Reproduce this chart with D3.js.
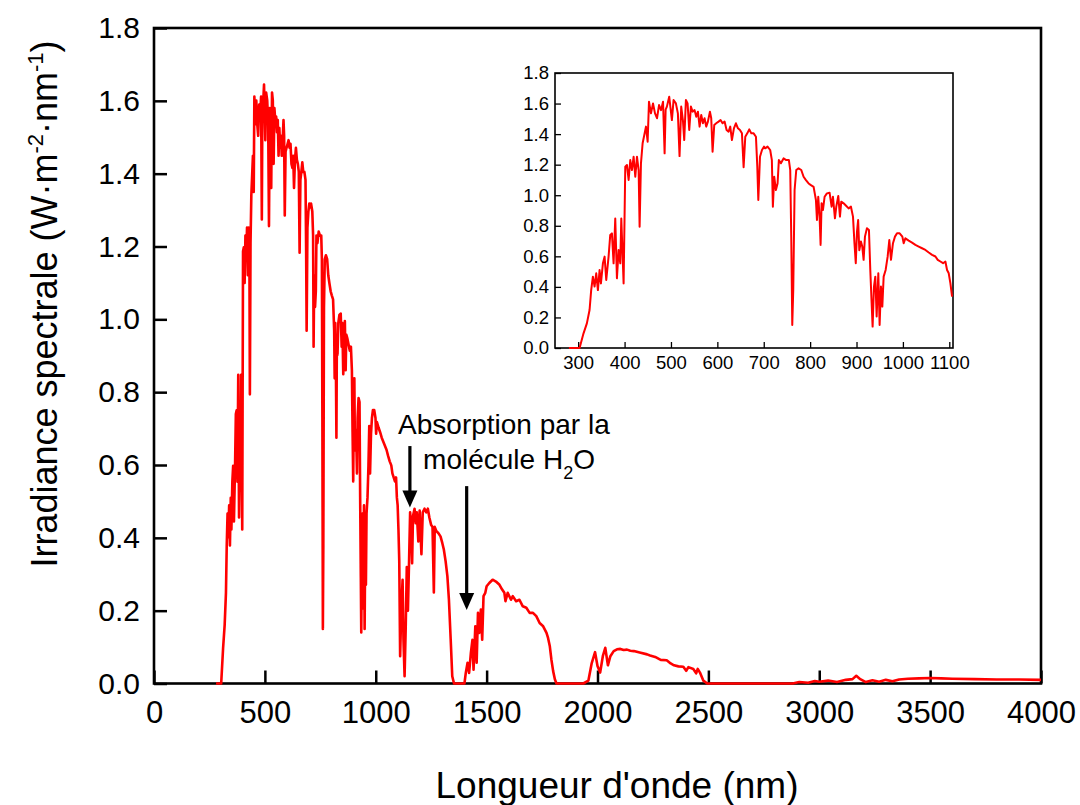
<!DOCTYPE html>
<html><head><meta charset="utf-8">
<script src="https://cdn.jsdelivr.net/npm/d3@7"></script>
<style>
html,body{margin:0;padding:0;background:#fff;}
text{font-family:"Liberation Sans",Arial,sans-serif;fill:#000;}
</style></head>
<body>
<svg id="chart" width="1080" height="805"></svg>
<script>
// ---- data ----
const wavelengthNm = [280,290,303,311.5,318.7,324.5,328,331.7,335.3,338.9,342.5,346.1,349,353.3,356.9,360.5,365.5,369.1,372.7,376.3,379.9,383.5,387.1,390.7,392.9,397.9,401.5,405.1,408.7,412.3,415.9,419.5,423.1,426.7,430.3,432.4,435.3,438.9,442.5,446.1,449.7,452.6,456.9,461.3,465.6,469.9,474.3,478.6,482.9,486.3,488.5,491.2,496.2,502,505.6,510.6,514.9,518.5,522.1,525.7,528.6,532.2,535.8,539.4,543,546.6,550.9,554.5,558.1,561.7,565.3,568.9,572.4,576,579.6,584,586.8,589.7,593.3,597.6,602.6,606.9,611.2,615.6,619.9,624.2,627.8,631.4,635.7,640,644.4,648.7,653,656.6,660.2,664.5,668.8,673.2,678.2,683.2,686.1,688.3,691.9,696.2,700.5,703.1,708.2,713.9,717.5,719.7,722.6,726.2,729.8,732.6,737,742.7,748.5,754.2,757.1,759.3,761.5,763.6,766.5,770.1,775.1,780.9,785.9,791,796.7,801.7,807.5,812.5,814.7,817.5,820.4,822.6,824.7,827.6,831.2,836.2,842,846.3,849.2,853.5,856.4,860.7,864.3,867.1,872.2,878,883,888,892.4,895.5,898.4,901,903.5,906,909.5,912.4,915.3,918.2,922.5,926.8,929.7,932.6,934.7,937.6,940.5,943.4,947,949.8,952.7,955.6,958.5,962.8,967.1,970.7,974.3,978.6,982.9,987.3,993,998.8,1001.7,1005.3,1012.5,1019.7,1026.9,1034.1,1041.3,1048.5,1055.7,1062.9,1070.1,1075.1,1080.8,1086.6,1091.6,1095.2,1098.8,1102.4,1106,1110,1115,1121,1125,1130,1135,1140,1145,1150,1155,1160,1164,1168,1175,1180,1185,1192,1198,1206,1212,1220,1228,1235,1242,1250,1256,1262,1266,1272,1282,1292,1300,1307,1315,1323,1330,1338,1345,1353,1400,1406,1414,1421,1429,1436,1441,1449,1455,1461,1467,1474,1480,1486,1494,1500,1512,1527,1542,1558,1570,1580,1585,1595,1610,1618,1633,1648,1663,1679,1694,1709,1724,1739,1755,1770,1777,1785,1792,1800,1808,1815,1936,1959,1974,1989,2000,2012,2024,2035,2047,2058,2073,2088,2103,2118,2133,2148,2164,2190,2224,2237,2260,2285,2312,2330,2345,2365,2387,2400,2410,2432,2445,2452,2462,2477,2495,2880,2910,2950,2980,3000,3040,3080,3120,3150,3167,3185,3210,3240,3270,3300,3330,3360,3400,3450,3500,3550,3600,3700,3800,3900,4000];
const irradiance = [0,0,0,0.096,0.161,0.249,0.379,0.467,0.402,0.489,0.379,0.510,0.423,0.554,0.598,0.445,0.598,0.74,0.75,0.554,0.848,0.456,0.641,0.554,0.848,0.423,1.187,1.198,1.10,1.23,1.165,1.252,1.121,1.252,1.165,0.794,1.209,1.34,1.394,1.449,1.35,1.612,1.536,1.601,1.536,1.504,1.59,1.557,1.612,1.274,1.56,1.58,1.645,1.492,1.623,1.601,1.536,1.256,1.58,1.492,1.361,1.623,1.601,1.427,1.58,1.547,1.557,1.514,1.547,1.449,1.525,1.471,1.504,1.449,1.482,1.547,1.504,1.285,1.46,1.471,1.482,1.492,1.471,1.482,1.427,1.416,1.449,1.361,1.438,1.471,1.438,1.427,1.405,1.183,1.383,1.405,1.431,1.405,1.405,1.383,1.187,0.969,1.252,1.296,1.318,1.307,1.318,1.296,1.23,0.925,1.121,1.034,1.077,1.23,1.209,1.241,1.23,1.23,1.165,0.728,0.15,0.379,1.034,1.165,1.176,1.165,1.121,1.099,1.077,1.066,1.055,0.969,0.838,0.99,0.86,0.675,0.947,0.903,0.99,1.012,1.016,0.925,0.99,0.849,0.925,0.995,0.86,0.958,0.947,0.929,0.914,0.925,0.86,0.69,0.555,0.76,0.838,0.64,0.697,0.664,0.577,0.729,0.784,0.773,0.511,0.293,0.14,0.402,0.467,0.206,0.489,0.15,0.402,0.271,0.467,0.511,0.598,0.707,0.577,0.686,0.729,0.751,0.751,0.729,0.686,0.718,0.703,0.69,0.675,0.664,0.653,0.642,0.625,0.61,0.599,0.577,0.566,0.555,0.566,0.511,0.489,0.423,0.336,0.075,0.2,0.285,0.12,0.02,0.15,0.32,0.2,0.33,0.47,0.43,0.33,0.46,0.48,0.44,0.47,0.39,0.475,0.355,0.47,0.48,0.47,0.48,0.455,0.435,0.43,0.25,0.43,0.42,0.413,0.404,0.386,0.368,0.336,0.295,0.23,0.12,0.02,0,0,0.029,0.057,0.029,0.084,0.12,0.038,0.157,0.057,0.194,0.139,0.203,0.12,0.24,0.249,0.267,0.276,0.285,0.28,0.271,0.258,0.249,0.226,0.249,0.23,0.24,0.226,0.23,0.212,0.208,0.194,0.194,0.185,0.166,0.157,0.139,0.125,0.102,0.066,0.034,0.011,0,0,0.008,0.056,0.086,0.048,0.03,0.075,0.098,0.05,0.075,0.089,0.094,0.095,0.092,0.093,0.09,0.089,0.085,0.08,0.077,0.073,0.065,0.064,0.055,0.05,0.047,0.046,0.035,0.045,0.04,0.028,0.04,0.03,0.008,0,0,0.004,0.002,0.007,0.005,0.008,0.004,0.01,0.012,0.021,0.012,0.004,0.009,0.005,0.01,0.006,0.011,0.013,0.014,0.015,0.014,0.013,0.012,0.011,0.011,0.01];

const mainXTicks = [0,500,1000,1500,2000,2500,3000,3500,4000];
const mainYTicks = [0,0.2,0.4,0.6,0.8,1.0,1.2,1.4,1.6,1.8];
const insetXTicks = [300,400,500,600,700,800,900,1000,1100];
const insetYTicks = [0,0.2,0.4,0.6,0.8,1.0,1.2,1.4,1.6,1.8];
const mainXDomain = [0,4000];
const insetXDomain = [250,1108];
const yDomain = [0,1.8];
// annotation: arrows [x nm, tip value, tail value]
const arrowsData = [[1154,0.483,0.652],[1410,0.202,0.542]];

const spectrum = wavelengthNm.map((w,i)=>({w, v: irradiance[i]}));

const svg = d3.select("#chart");
const red = "#ff0000";

// ---------- main chart ----------
const x = d3.scaleLinear().domain(mainXDomain).range([154,1041]);
const y = d3.scaleLinear().domain(yDomain).range([683.5,28]);

const gx = svg.append("g").attr("transform","translate(0,683.5)")
  .call(d3.axisBottom(x).tickValues(mainXTicks).tickSize(-13).tickPadding(17).tickFormat(d3.format("d")));
gx.selectAll("text").style("font-size","31px");
const gy = svg.append("g").attr("transform","translate(154,0)")
  .call(d3.axisLeft(y).tickValues(mainYTicks).tickSize(-13).tickPadding(14).tickFormat(d3.format(".1f")));
gy.selectAll("text").style("font-size","30px");
[gx,gy].forEach(g=>{
  g.select(".domain").remove();
  g.selectAll(".tick line").attr("stroke","#000").attr("stroke-width",2.5);
});
svg.append("rect").attr("x",154).attr("y",28).attr("width",1041-154).attr("height",683.5-28)
  .attr("fill","none").attr("stroke","#000").attr("stroke-width",2.6);

const line = d3.line().x(d=>x(d.w)).y(d=>y(d.v));
svg.append("path").datum(spectrum)
  .attr("d", line).attr("fill","none").attr("stroke",red)
  .attr("stroke-width",2.6).attr("stroke-linejoin","round");

// axis titles
svg.append("text").attr("x",617).attr("y",798).attr("text-anchor","middle")
  .style("font-size","37px").text("Longueur d'onde (nm)");
const yt = svg.append("text").attr("transform","translate(57,304) rotate(-90)")
  .attr("text-anchor","middle").style("font-size","36px");
yt.append("tspan").text("Irradiance spectrale (W·m");
yt.append("tspan").attr("dy",-14).style("font-size","22px").text("-2");
yt.append("tspan").attr("dy",14).text("·nm");
yt.append("tspan").attr("dy",-14).style("font-size","22px").text("-1");
yt.append("tspan").attr("dy",14).text(")");

// annotation
svg.append("text").attr("x",x(1578)).attr("y",y(0.685)).attr("text-anchor","middle")
  .style("font-size","28px").text("Absorption par la");
const t2 = svg.append("text").attr("x",x(1601)).attr("y",y(0.588)).attr("text-anchor","middle")
  .style("font-size","28px");
t2.append("tspan").text("molécule H");
t2.append("tspan").attr("dy",10).style("font-size","18px").text("2");
t2.append("tspan").attr("dy",-10).text("O");

arrowsData.forEach(([w,tip,tail])=>{
  const ax = x(w), ty = y(tip), tl = y(tail);
  svg.append("line").attr("x1",ax).attr("x2",ax).attr("y1",tl).attr("y2",ty-12)
    .attr("stroke","#000").attr("stroke-width",3.2);
  svg.append("path").attr("d",`M${ax-7.5},${ty-17}L${ax+7.5},${ty-17}L${ax},${ty}Z`).attr("fill","#000");
});

// ---------- inset ----------
const xi = d3.scaleLinear().domain(insetXDomain).range([555,953]);
const yi = d3.scaleLinear().domain(yDomain).range([348,73]);
svg.append("rect").attr("x",555).attr("y",73).attr("width",953-555).attr("height",348-73)
  .attr("fill","#fff").attr("stroke","none");
const gxi = svg.append("g").attr("transform","translate(0,348)")
  .call(d3.axisBottom(xi).tickValues(insetXTicks).tickSize(-6).tickPadding(8).tickFormat(d3.format("d")));
const gyi = svg.append("g").attr("transform","translate(555,0)")
  .call(d3.axisLeft(yi).tickValues(insetYTicks).tickSize(-6).tickPadding(6).tickFormat(d3.format(".1f")));
[gxi,gyi].forEach(g=>{
  g.select(".domain").remove();
  g.selectAll(".tick line").attr("stroke","#000").attr("stroke-width",1.3);
  g.selectAll("text").style("font-size","18.5px");
});
svg.append("rect").attr("x",555).attr("y",73).attr("width",953-555).attr("height",348-73)
  .attr("fill","none").attr("stroke","#000").attr("stroke-width",1.6);
const lineI = d3.line().x(d=>xi(d.w)).y(d=>yi(d.v));
svg.append("path").datum(spectrum.filter(d=>d.w<=1106))
  .attr("d", lineI).attr("fill","none").attr("stroke",red)
  .attr("stroke-width",2).attr("stroke-linejoin","round");
</script>
</body></html>
